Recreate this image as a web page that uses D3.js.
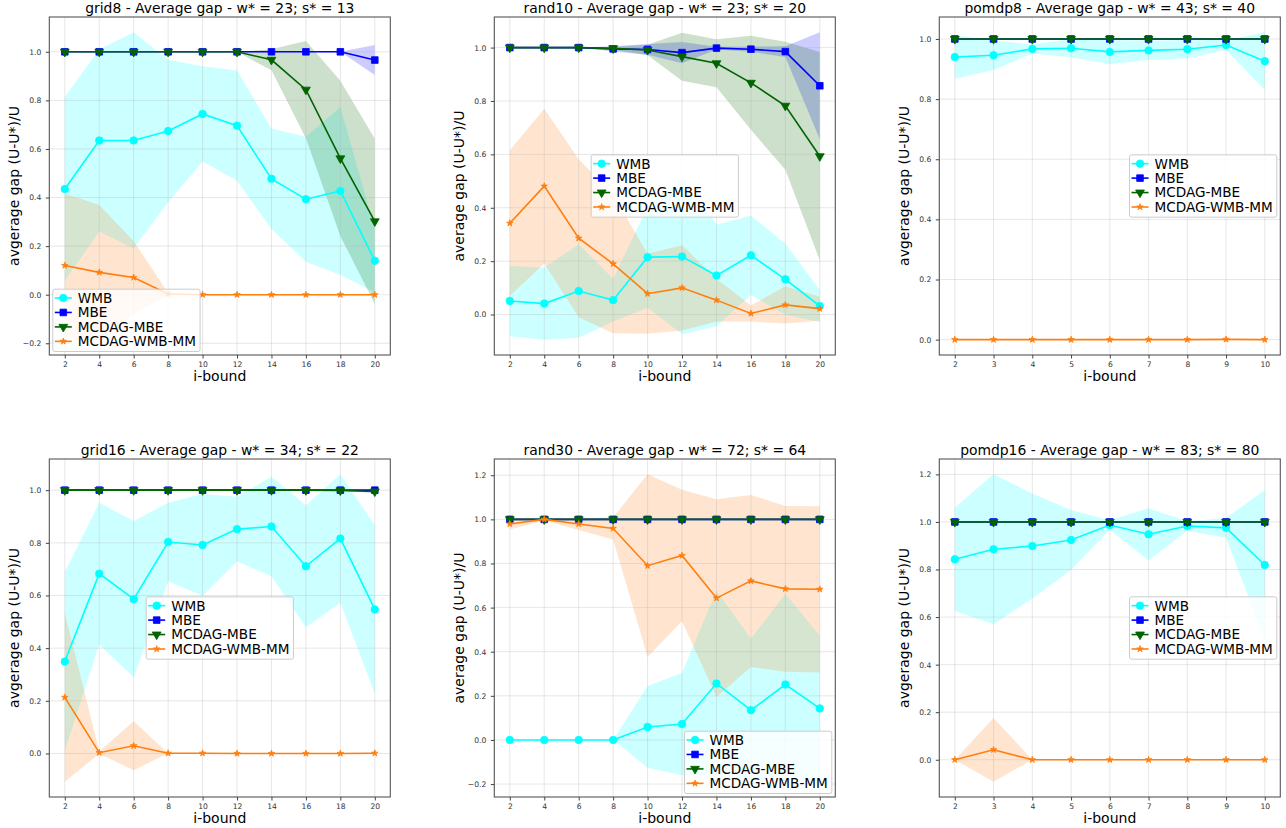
<!DOCTYPE html>
<meta charset="utf-8">
<head>
<title>Average gap</title>
<script src="https://d3js.org/d3.v7.min.js"></script>
<style>
  body { margin: 0; background: #fff; }
  svg { font-family: "DejaVu Sans", sans-serif; }
</style>
</head>
<body>
<div id="chart"></div>
<script>
// series shared by every panel
const seriesNames = ["WMB", "MBE", "MCDAG-MBE", "MCDAG-WMB-MM"];
const seriesColors = ["#00ffff", "#0000ff", "#006400", "#ff7f0e"];

const iboundGrid = [2, 4, 6, 8, 10, 12, 14, 16, 18, 20];
const iboundPomdp = [2, 3, 4, 5, 6, 7, 8, 9, 10];

// grid8
const grid8Wmb = [0.435, 0.635, 0.635, 0.674, 0.744, 0.696, 0.477, 0.393, 0.427, 0.140];
const grid8WmbSd = [0.379, 0.375, 0.445, 0.293, 0.196, 0.227, 0.207, 0.257, 0.346, 0.13];
const grid8Mbe = [1, 1, 1, 1, 1, 1, 1, 1, 1, 0.966];
const grid8MbeSd = [0, 0, 0, 0, 0, 0, 0, 0, 0, 0.062];
const grid8Mcdag = [1, 1, 1, 1, 1, 1, 0.967, 0.844, 0.561, 0.302];
const grid8McdagSd = [0, 0, 0, 0, 0, 0, 0.043, 0.2, 0.32, 0.34];
const grid8Mm = [0.12, 0.092, 0.071, 0.003, 0, 0, 0, 0, 0, 0];
const grid8MmSd = [0.297, 0.277, 0.15, 0.004, 0, 0, 0, 0, 0, 0];

// rand10
const rand10Wmb = [0.051, 0.041, 0.088, 0.054, 0.215, 0.217, 0.146, 0.222, 0.132, 0.032];
const rand10WmbSd = [0.132, 0.135, 0.175, 0.08, 0.19, 0.291, 0.19, 0.149, 0.133, 0.06];
const rand10Mbe = [1, 1, 1, 0.995, 0.993, 0.981, 0.998, 0.994, 0.985, 0.857];
const rand10MbeSd = [0, 0, 0, 0.01, 0.02, 0.04, 0.005, 0.01, 0.02, 0.2];
const rand10Mcdag = [1, 1, 1, 0.997, 0.991, 0.966, 0.941, 0.868, 0.782, 0.593];
const rand10McdagSd = [0, 0, 0, 0.005, 0.02, 0.09, 0.09, 0.176, 0.24, 0.39];
const rand10Mm = [0.342, 0.481, 0.286, 0.19, 0.078, 0.10, 0.054, 0.004, 0.036, 0.022];
const rand10MmSd = [0.273, 0.29, 0.296, 0.26, 0.15, 0.16, 0.08, 0.03, 0.07, 0.045];

// pomdp8
const pomdp8Wmb = [0.94, 0.946, 0.967, 0.969, 0.957, 0.962, 0.966, 0.98, 0.926];
const pomdp8WmbSd = [0.072, 0.049, 0.015, 0.03, 0.04, 0.032, 0.031, 0.017, 0.096];
const pomdp8Mbe = [1, 1, 1, 1, 1, 1, 1, 1, 1];
const pomdp8MbeSd = [0, 0, 0, 0, 0, 0, 0, 0, 0];
const pomdp8Mcdag = [1, 1, 1, 1, 1, 1, 1, 1, 1];
const pomdp8McdagSd = [0, 0, 0, 0, 0, 0, 0, 0, 0];
const pomdp8Mm = [0, 0, 0, 0, 0, 0, 0, 0.001, 0];
const pomdp8MmSd = [0, 0, 0, 0, 0, 0, 0, 0, 0];

// grid16
const grid16Wmb = [0.349, 0.683, 0.586, 0.803, 0.792, 0.852, 0.862, 0.711, 0.816, 0.547];
const grid16WmbSd = [0.34, 0.269, 0.297, 0.149, 0.193, 0.123, 0.189, 0.232, 0.244, 0.32];
const grid16Mbe = [1, 1, 1, 1, 1, 1, 1, 1, 1, 1];
const grid16MbeSd = [0, 0, 0, 0, 0, 0, 0, 0, 0, 0];
const grid16Mcdag = [1, 1, 1, 1, 1, 1, 1, 1, 0.999, 0.995];
const grid16McdagSd = [0, 0, 0, 0, 0, 0, 0, 0, 0.002, 0.006];
const grid16Mm = [0.213, 0.003, 0.029, 0.001, 0.001, 0, 0, 0, 0, 0.001];
const grid16MmSd = [0.32, 0.004, 0.093, 0, 0, 0, 0, 0, 0, 0];

// rand30
const rand30Wmb = [0, 0, 0, 0, 0.059, 0.072, 0.256, 0.135, 0.251, 0.143];
const rand30WmbSd = [0, 0, 0, 0, 0.185, 0.232, 0.422, 0.324, 0.412, 0.331];
const rand30Mbe = [1, 1, 1, 1, 1, 1, 1, 1, 1, 1];
const rand30MbeSd = [0, 0, 0, 0, 0, 0, 0, 0, 0, 0];
const rand30Mcdag = [1, 1, 1, 1, 1, 1, 1, 1, 1, 1];
const rand30McdagSd = [0, 0, 0, 0, 0, 0, 0, 0, 0, 0];
const rand30Mm = [0.979, 1.0, 0.979, 0.959, 0.79, 0.836, 0.643, 0.721, 0.685, 0.683];
const rand30MmSd = [0.025, 0.005, 0.027, 0.05, 0.414, 0.298, 0.448, 0.39, 0.376, 0.377];

// pomdp16
const pomdp16Wmb = [0.843, 0.885, 0.899, 0.924, 0.987, 0.948, 0.983, 0.975, 0.819];
const pomdp16WmbSd = [0.218, 0.315, 0.221, 0.126, 0.02, 0.11, 0.02, 0.042, 0.315];
const pomdp16Mbe = [1, 1, 1, 1, 1, 1, 1, 1, 1];
const pomdp16MbeSd = [0, 0, 0, 0, 0, 0, 0, 0, 0];
const pomdp16Mcdag = [1, 1, 1, 1, 1, 1, 1, 1, 1];
const pomdp16McdagSd = [0, 0, 0, 0, 0, 0, 0, 0, 0];
const pomdp16Mm = [0, 0.042, 0, 0, 0, 0, 0, 0, 0];
const pomdp16MmSd = [0, 0.134, 0, 0, 0, 0, 0, 0, 0];

const panels = [
  {title: "grid8 - Average gap - w* = 23; s* = 13", ylabel: "avgerage gap (U-U*)/U", x: iboundGrid, legend: "lower left",
   means: [grid8Wmb, grid8Mbe, grid8Mcdag, grid8Mm], sds: [grid8WmbSd, grid8MbeSd, grid8McdagSd, grid8MmSd]},
  {title: "rand10 - Average gap - w* = 23; s* = 20", ylabel: "average gap (U-U*)/U", x: iboundGrid, legend: "center",
   means: [rand10Wmb, rand10Mbe, rand10Mcdag, rand10Mm], sds: [rand10WmbSd, rand10MbeSd, rand10McdagSd, rand10MmSd]},
  {title: "pomdp8 - Average gap - w* = 43; s* = 40", ylabel: "avgerage gap (U-U*)/U", x: iboundPomdp, legend: "center right",
   means: [pomdp8Wmb, pomdp8Mbe, pomdp8Mcdag, pomdp8Mm], sds: [pomdp8WmbSd, pomdp8MbeSd, pomdp8McdagSd, pomdp8MmSd]},
  {title: "grid16 - Average gap - w* = 34; s* = 22", ylabel: "avgerage gap (U-U*)/U", x: iboundGrid, legend: "center",
   means: [grid16Wmb, grid16Mbe, grid16Mcdag, grid16Mm], sds: [grid16WmbSd, grid16MbeSd, grid16McdagSd, grid16MmSd]},
  {title: "rand30 - Average gap - w* = 72; s* = 64", ylabel: "average gap (U-U*)/U", x: iboundGrid, legend: "lower right",
   means: [rand30Wmb, rand30Mbe, rand30Mcdag, rand30Mm], sds: [rand30WmbSd, rand30MbeSd, rand30McdagSd, rand30MmSd]},
  {title: "pomdp16 - Average gap - w* = 83; s* = 80", ylabel: "avgerage gap (U-U*)/U", x: iboundPomdp, legend: "center right",
   means: [pomdp16Wmb, pomdp16Mbe, pomdp16Mcdag, pomdp16Mm], sds: [pomdp16WmbSd, pomdp16MbeSd, pomdp16McdagSd, pomdp16MmSd]}
];

// layout of the 2x3 grid
const colLeft = [49.3, 494.3, 939.3];
const rowTop = [17, 459];
const axW = 341, axH = 338;

const svg = d3.select("#chart").append("svg")
  .attr("width", 1286)
  .attr("height", 828);

// marker shapes per series
const markers = [
  d3.symbol().type(d3.symbolCircle).size(44),
  d3.symbol().type(d3.symbolSquare).size(44),
  d3.symbol().type(d3.symbolTriangle).size(34),
  d3.symbol().type(d3.symbolStar).size(13)
];
const markerRotate = [0, 0, 180, 0];

function drawMarker(sel, s) {
  sel.append("path")
    .attr("d", markers[s]())
    .attr("fill", seriesColors[s])
    .attr("stroke", seriesColors[s])
    .attr("stroke-width", 0.8)
    .attr("transform", d => markerRotate[s] ? "rotate(180)" : null);
}

panels.forEach(function(p, i) {
  var left = colLeft[i % 3], top = rowTop[Math.floor(i / 3)];
  var g = svg.append("g").attr("transform", "translate(" + left + "," + top + ")");

  // matplotlib-like 5% margins
  var xe = d3.extent(p.x), xp = (xe[1] - xe[0]) * 0.05;
  var x = d3.scaleLinear().domain([xe[0] - xp, xe[1] + xp]).range([0, axW]);

  var lo = Infinity, hi = -Infinity;
  p.means.forEach(function(m, s) {
    m.forEach(function(v, k) {
      lo = Math.min(lo, v - p.sds[s][k]);
      hi = Math.max(hi, v + p.sds[s][k]);
    });
  });
  var yp = (hi - lo) * 0.05;
  var y = d3.scaleLinear().domain([lo - yp, hi + yp]).range([axH, 0]);
  var yd = y.domain();
  var yTicks = d3.range(Math.ceil(yd[0] / 0.2 - 1e-9), Math.floor(yd[1] / 0.2 + 1e-9) + 1).map(k => k * 0.2);

  var clipId = "clip" + i;
  g.append("clipPath").attr("id", clipId)
    .append("rect").attr("width", axW).attr("height", axH);

  // std bands
  var area = d3.area()
    .x(d => x(d.x))
    .y0(d => y(d.m - d.sd))
    .y1(d => y(d.m + d.sd));
  p.means.forEach(function(m, s) {
    var pts = p.x.map((xv, k) => ({x: xv, m: m[k], sd: p.sds[s][k]}));
    g.append("path")
      .datum(pts)
      .attr("clip-path", "url(#" + clipId + ")")
      .attr("d", area)
      .attr("fill", seriesColors[s])
      .attr("fill-opacity", 0.2);
  });

  // grid
  g.selectAll("xgrid").data(p.x).enter().append("line")
    .attr("x1", d => x(d)).attr("x2", d => x(d))
    .attr("y1", 0).attr("y2", axH)
    .attr("stroke", "#b0b0b0").attr("stroke-opacity", 0.3).attr("stroke-width", 1);
  g.selectAll("ygrid").data(yTicks).enter().append("line")
    .attr("x1", 0).attr("x2", axW)
    .attr("y1", d => y(d)).attr("y2", d => y(d))
    .attr("stroke", "#b0b0b0").attr("stroke-opacity", 0.3).attr("stroke-width", 1);

  // lines + markers
  var line = d3.line().x(d => x(d.x)).y(d => y(d.m));
  p.means.forEach(function(m, s) {
    var pts = p.x.map((xv, k) => ({x: xv, m: m[k]}));
    g.append("path")
      .datum(pts)
      .attr("d", line)
      .attr("fill", "none")
      .attr("stroke", seriesColors[s])
      .attr("stroke-width", 1.6);
    var mk = g.selectAll("mk" + s).data(pts).enter().append("g")
      .attr("transform", d => "translate(" + x(d.x) + "," + y(d.m) + ")");
    drawMarker(mk, s);
  });

  // frame
  g.append("rect")
    .attr("width", axW).attr("height", axH)
    .attr("fill", "none").attr("stroke", "#555").attr("stroke-width", 1.1);

  // axes
  var xAxis = g.append("g")
    .attr("transform", "translate(0," + axH + ")")
    .call(d3.axisBottom(x).tickValues(p.x).tickSize(3.5).tickPadding(3).tickFormat(d3.format("d")));
  var yAxis = g.append("g")
    .call(d3.axisLeft(y).tickValues(yTicks).tickSize(3.5).tickPadding(4.5).tickFormat(d3.format(".1f")));
  [xAxis, yAxis].forEach(function(a) {
    a.select(".domain").remove();
    a.selectAll("line").attr("stroke", "#444");
    a.selectAll("text").attr("fill", "#333").style("font-size", "7.6px").style("font-family", "DejaVu Sans");
  });

  // title and labels
  g.append("text")
    .attr("x", axW / 2).attr("y", -4.5)
    .attr("text-anchor", "middle")
    .style("font-size", "13.9px")
    .text(p.title);
  g.append("text")
    .attr("x", axW / 2).attr("y", axH + 26)
    .attr("text-anchor", "middle")
    .style("font-size", "14px")
    .text("i-bound");
  g.append("text")
    .attr("transform", "translate(-30," + (axH / 2) + ") rotate(-90)")
    .attr("text-anchor", "middle")
    .style("font-size", "14px")
    .text(p.ylabel);

  // legend
  var lg = g.append("g");
  var box = lg.append("rect")
    .attr("rx", 2)
    .attr("fill", "#fff").attr("fill-opacity", 0.8)
    .attr("stroke", "#cccccc").attr("stroke-width", 1);
  var rowH = 14.45, maxW = 0;
  seriesNames.forEach(function(name, s) {
    var cy = 8.8 + s * rowH;
    lg.append("line")
      .attr("x1", 2).attr("x2", 19).attr("y1", cy).attr("y2", cy)
      .attr("stroke", seriesColors[s]).attr("stroke-width", 1.6);
    var mk = lg.append("g").attr("transform", "translate(10.5," + cy + ")");
    drawMarker(mk, s);
    var t = lg.append("text")
      .attr("x", 25).attr("y", cy).attr("dy", "0.36em")
      .style("font-size", "13.6px")
      .text(name);
    maxW = Math.max(maxW, t.node().getComputedTextLength());
  });
  var bw = 25 + maxW + 4, bh = 62.3, pad = 3.5;
  box.attr("width", bw).attr("height", bh);
  var lx, ly;
  if (p.legend === "lower left") { lx = pad; ly = axH - pad - bh; }
  else if (p.legend === "lower right") { lx = axW - pad - bw; ly = axH - pad - bh; }
  else if (p.legend === "center right") { lx = axW - pad - bw; ly = axH / 2 - bh / 2; }
  else { lx = axW / 2 - bw / 2; ly = axH / 2 - bh / 2; }
  lg.attr("transform", "translate(" + lx + "," + ly + ")");
});
</script>
</body>
